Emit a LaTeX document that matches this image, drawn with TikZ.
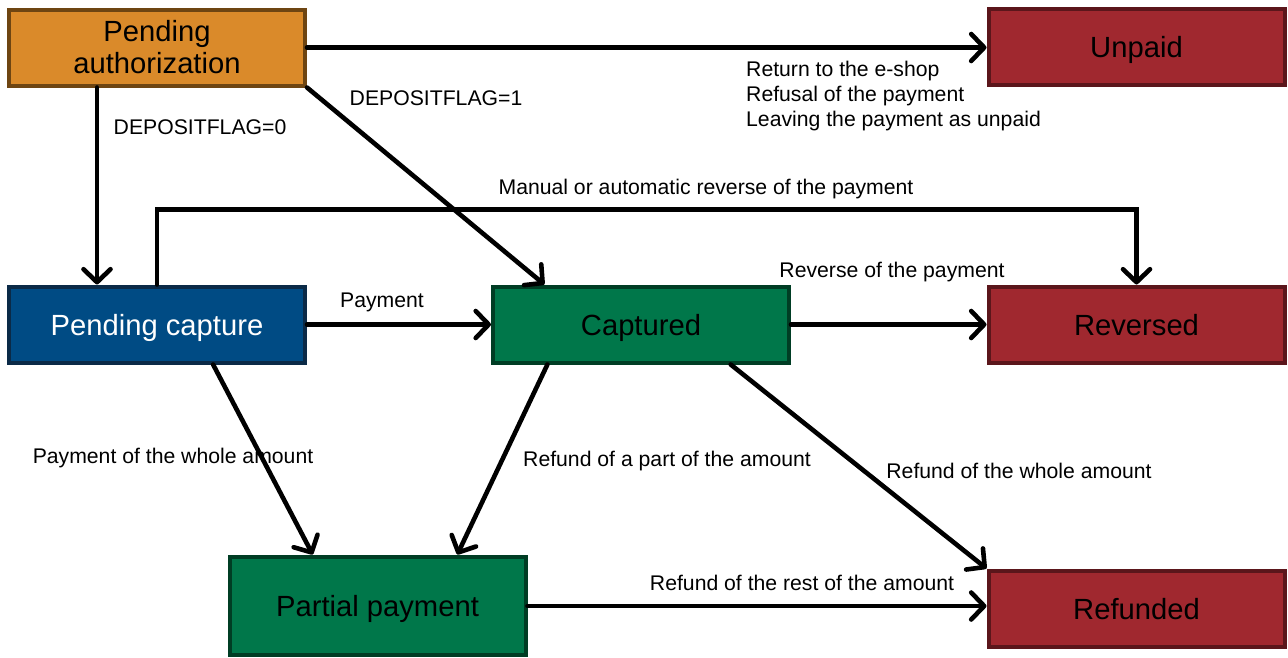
\documentclass[tikz,border=0pt]{standalone}
\usepackage{fontspec}
\setmainfont{Liberation Sans}
\usetikzlibrary{arrows.meta,calc}
\definecolor{orfill}{HTML}{DA8A2A}
\definecolor{ordraw}{HTML}{6E4512}
\definecolor{redfill}{HTML}{A0282F}
\definecolor{reddraw}{HTML}{5B161B}
\definecolor{bluefill}{HTML}{004B84}
\definecolor{bluedraw}{HTML}{0B2A47}
\definecolor{grfill}{HTML}{00774A}
\definecolor{grdraw}{HTML}{003D24}
\tikzset{
  statebox/.style={rectangle, line width=4pt, inner sep=0pt, align=center,
    minimum width=296pt, minimum height=76pt,
    font=\fontsize{29.2}{32}\selectfont},
  onel/.style={text height=21pt, text depth=0pt},
  orbox/.style={statebox, fill=orfill, draw=ordraw},
  redbox/.style={statebox, onel, fill=redfill, draw=reddraw},
  bluebox/.style={statebox, onel, fill=bluefill, draw=bluedraw, text=white},
  grbox/.style={statebox, onel, fill=grfill, draw=grdraw},
  conn/.style={line width=4.6pt, line cap=round, line join=miter,
    -{Straight Barb[length=13pt, width=27pt, line width=4.6pt, round]}},
  lbl/.style={inner sep=0pt, font=\fontsize{21.2}{25}\selectfont,
    text height=15pt, text depth=4pt}
}
\begin{document}
\begin{tikzpicture}[x=1pt, y=-1pt]
\useasboundingbox (0,0) rectangle (1288,657);
% boxes
\node[orbox] (pa) at (157,47.5) {Pending\\authorization};
\node[redbox] (unp) at (1136.5,47) {Unpaid};
\node[bluebox] (pc) at (157,324.5) {Pending capture};
\node[grbox] (cap) at (641,324.5) {Captured};
\node[redbox] (rev) at (1136.5,324.5) {Reversed};
\node[grbox, minimum height=98pt] (pp) at (377.5,605.5) {Partial payment};
\node[redbox] (ref) at (1136.5,608.5) {Refunded};
% connectors
\draw[conn] (pa.east) -- (pa.east -| unp.west);
\draw[conn] ($(pa.south west)!0.3!(pa.south east)$) -- ($(pc.north west)!0.3!(pc.north east)$);
\draw[conn] (pa.south east) -- ($(cap.north west)!0.178!(cap.north east)$);
\draw[conn] (pc.north) |- ($(rev.north)+(0,-75)$) -- (rev.north);
\draw[conn] (pc.east) -- (cap.west);
\draw[conn] (cap.east) -- (rev.west);
\draw[conn] ($(pc.south west)!0.687!(pc.south east)$) -- ($(pp.north west)!0.284!(pp.north east)$);
\draw[conn] ($(cap.south west)!0.188!(cap.south east)$) -- ($(pp.north west)!0.766!(pp.north east)$);
\draw[conn] ($(cap.south west)!0.799!(cap.south east)$) -- (ref.north west);
\draw[conn] (pp.east |- 0,606) -- (ref.west |- 0,606);
% labels
\node[lbl, anchor=west, align=left, text height=, text depth=] (l1) at (746,96)
  {\fontsize{21.2}{24}\selectfont Return to the e-shop\\Refusal of the payment\\Leaving the payment as unpaid};
\node[lbl] (l2) at (200,129) {DEPOSITFLAG=0};
\node[lbl] (l3) at (436,100) {DEPOSITFLAG=1};
\node[lbl] (l4) at (706,189) {Manual or automatic reverse of the payment};
\node[lbl] (l5) at (382,302) {Payment};
\node[lbl] (l6) at (892,272) {Reverse of the payment};
\node[lbl] (l7) at (173,458) {Payment of the whole amount};
\node[lbl] (l8) at (667,461) {Refund of a part of the amount};
\node[lbl] (l9) at (1019,473) {Refund of the whole amount};
\node[lbl] (l10) at (802,585) {Refund of the rest of the amount};
\end{tikzpicture}
\end{document}
